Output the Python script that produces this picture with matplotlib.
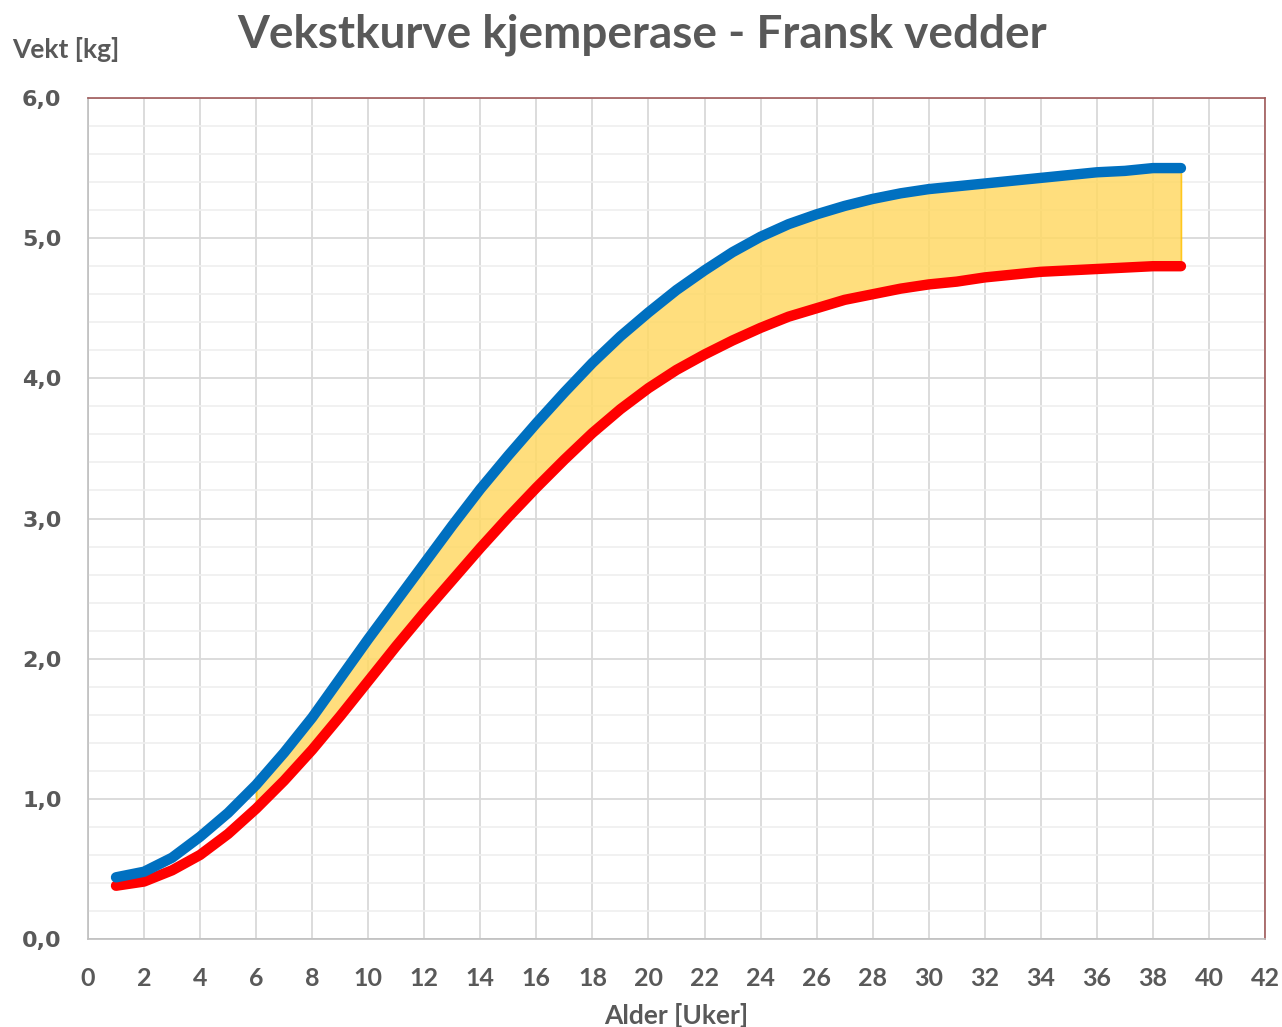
import matplotlib.pyplot as plt
import numpy as np

# uker og vekt (kg) lest av figuren
uker = list(range(1, 40))
vekt_hoy = [0.44, 0.48, 0.58, 0.73, 0.90, 1.10, 1.33, 1.58, 1.86, 2.14,
            2.41, 2.68, 2.95, 3.21, 3.45, 3.68, 3.90, 4.11, 4.30, 4.47,
            4.63, 4.77, 4.90, 5.01, 5.10, 5.17, 5.23, 5.28, 5.32, 5.35,
            5.37, 5.39, 5.41, 5.43, 5.45, 5.47, 5.48, 5.50, 5.50]
vekt_lav = [0.38, 0.41, 0.49, 0.60, 0.75, 0.93, 1.13, 1.35, 1.59, 1.84,
            2.09, 2.33, 2.56, 2.79, 3.01, 3.22, 3.42, 3.61, 3.78, 3.93,
            4.06, 4.17, 4.27, 4.36, 4.44, 4.50, 4.56, 4.60, 4.64, 4.67,
            4.69, 4.72, 4.74, 4.76, 4.77, 4.78, 4.79, 4.80, 4.80]
fyll_fra = 6  # gult felt starter her

x_ticks = list(range(0, 43, 2))
y_ticks = [0, 1, 2, 3, 4, 5, 6]
y_ticklabels = ['0,0', '1,0', '2,0', '3,0', '4,0', '5,0', '6,0']

grå = '#595959'

fig = plt.figure(figsize=(12.82, 10.27), dpi=100)
ax = fig.add_axes([88 / 1282, 88 / 1027, 1177 / 1282, 841 / 1027])

u = np.array(uker)
hoy = np.array(vekt_hoy)
lav = np.array(vekt_lav)
m = u >= fyll_fra
ax.fill_between(u[m], lav[m], hoy[m], color='#FFD966', alpha=0.85,
                edgecolor='#FFC000', linewidth=1.2, zorder=2)

ax.plot(u, lav, color='#FF0000', lw=7.5, solid_capstyle='round',
        solid_joinstyle='round', zorder=3)
ax.plot(u, hoy, color='#0070C0', lw=7.5, solid_capstyle='round',
        solid_joinstyle='round', zorder=4)

ax.set_xlim(0, 42)
ax.set_ylim(0, 6)
ax.set_xticks(x_ticks)
ax.set_xticklabels([str(t) for t in x_ticks], fontsize=18, fontweight='bold',
                   color=grå, family='Lato')
ax.set_yticks(y_ticks)
ax.set_yticklabels(y_ticklabels, fontsize=16, fontweight='bold', color=grå,
                   family='DejaVu Sans')
ax.set_yticks(np.arange(0, 6.01, 0.2), minor=True)
ax.tick_params(axis='both', length=0, which='both')
ax.tick_params(axis='x', pad=20)
ax.tick_params(axis='y', pad=19)

ax.grid(axis='x', which='major', color='#D9D9D9', lw=1.3, zorder=0)
ax.grid(axis='y', which='minor', color='#EFEFEF', lw=1.2, zorder=0)
ax.grid(axis='y', which='major', color='#D9D9D9', lw=1.3, zorder=0)
ax.set_axisbelow(True)

for s in ['top', 'right']:
    ax.spines[s].set_color('#A05A5A')
    ax.spines[s].set_linewidth(1.2)
for s in ['left', 'bottom']:
    ax.spines[s].set_color('#BFBFBF')
    ax.spines[s].set_linewidth(1.2)

fig.text(642 / 1282, 1 - 35 / 1027, 'Vekstkurve kjemperase - Fransk vedder',
         ha='center', va='center', fontsize=33, fontweight='bold', color=grå,
         family='Lato')
fig.text(12 / 1282, 1 - 50 / 1027, 'Vekt [kg]', ha='left', va='center',
         fontsize=19, fontweight='bold', color=grå, family='Lato')
fig.text(676 / 1282, 1 - 1015 / 1027, 'Alder [Uker]', ha='center', va='center',
         fontsize=19, fontweight='bold', color=grå, family='Lato')

fig.savefig('out.png', dpi=100)
